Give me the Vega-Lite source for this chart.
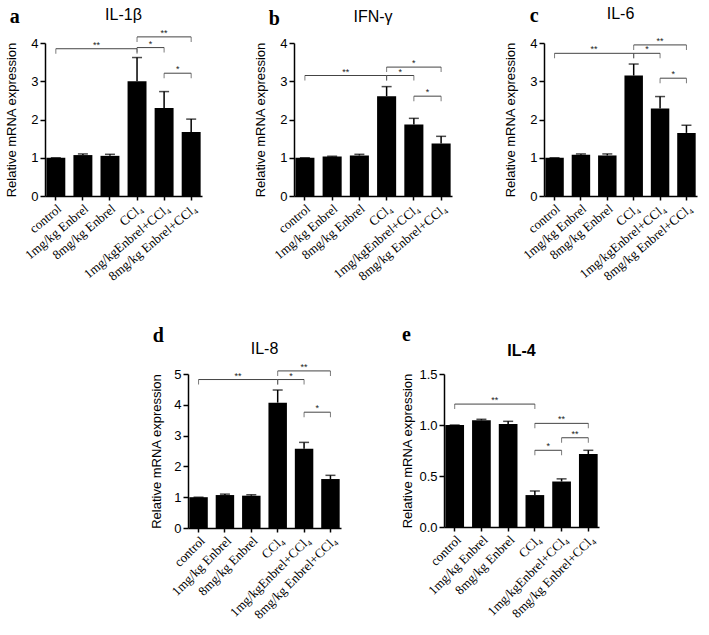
{
  "$schema": "https://vega.github.io/schema/vega-lite/v6.json",
  "background": "white",
  "padding": 5,
  "spacing": 42,
  "config": {
    "view": {"stroke": null},
    "axis": {"domainColor": "black", "domainWidth": 1.5, "tickColor": "black", "tickWidth": 1.5, "tickSize": 5, "grid": false, "labelColor": "black", "titleColor": "black"},
    "title": {"color": "black"}
  },
  "datasets": {
    "a": [
      {"group": "control", "mean": 1.0, "upper": 1.0},
      {"group": "1mg/kg Enbrel", "mean": 1.07, "upper": 1.1},
      {"group": "8mg/kg Enbrel", "mean": 1.05, "upper": 1.09},
      {"group": "CCl₄", "mean": 3.0, "upper": 3.62},
      {"group": "1mg/kgEnbrel+CCl₄", "mean": 2.3, "upper": 2.73},
      {"group": "8mg/kg Enbrel+CCl₄", "mean": 1.67, "upper": 2.01}
    ],
    "as": [
      {"x1": 0, "x2": 3, "mid": 1.5, "y": 3.85, "label": "**"},
      {"x1": 3, "x2": 4, "mid": 3.5, "y": 3.88, "label": "*"},
      {"x1": 3, "x2": 5, "mid": 4, "y": 4.16, "label": "**"},
      {"x1": 4, "x2": 5, "mid": 4.5, "y": 3.21, "label": "*"}
    ],
    "b": [
      {"group": "control", "mean": 1.0, "upper": 1.0},
      {"group": "1mg/kg Enbrel", "mean": 1.03, "upper": 1.04},
      {"group": "8mg/kg Enbrel", "mean": 1.06, "upper": 1.09},
      {"group": "CCl₄", "mean": 2.61, "upper": 2.86},
      {"group": "1mg/kgEnbrel+CCl₄", "mean": 1.87, "upper": 2.03},
      {"group": "8mg/kg Enbrel+CCl₄", "mean": 1.37, "upper": 1.56}
    ],
    "bs": [
      {"x1": 0, "x2": 3, "mid": 1.5, "y": 3.15, "label": "**"},
      {"x1": 3, "x2": 4, "mid": 3.5, "y": 3.15, "label": "*"},
      {"x1": 3, "x2": 5, "mid": 4, "y": 3.37, "label": "*"},
      {"x1": 4, "x2": 5, "mid": 4.5, "y": 2.61, "label": "*"}
    ],
    "c": [
      {"group": "control", "mean": 1.0, "upper": 1.0},
      {"group": "1mg/kg Enbrel", "mean": 1.08, "upper": 1.1},
      {"group": "8mg/kg Enbrel", "mean": 1.06, "upper": 1.1},
      {"group": "CCl₄", "mean": 3.15, "upper": 3.45},
      {"group": "1mg/kgEnbrel+CCl₄", "mean": 2.29, "upper": 2.6},
      {"group": "8mg/kg Enbrel+CCl₄", "mean": 1.65, "upper": 1.85}
    ],
    "cs": [
      {"x1": 0, "x2": 3, "mid": 1.5, "y": 3.73, "label": "**"},
      {"x1": 3, "x2": 4, "mid": 3.5, "y": 3.73, "label": "*"},
      {"x1": 3, "x2": 5, "mid": 4, "y": 3.95, "label": "**"},
      {"x1": 4, "x2": 5, "mid": 4.5, "y": 3.08, "label": "*"}
    ],
    "d": [
      {"group": "control", "mean": 1.0, "upper": 1.0},
      {"group": "1mg/kg Enbrel", "mean": 1.07, "upper": 1.1},
      {"group": "8mg/kg Enbrel", "mean": 1.05, "upper": 1.08},
      {"group": "CCl₄", "mean": 4.07, "upper": 4.48},
      {"group": "1mg/kgEnbrel+CCl₄", "mean": 2.57, "upper": 2.78},
      {"group": "8mg/kg Enbrel+CCl₄", "mean": 1.59, "upper": 1.71}
    ],
    "ds": [
      {"x1": 0, "x2": 3, "mid": 1.5, "y": 4.82, "label": "**"},
      {"x1": 3, "x2": 4, "mid": 3.5, "y": 4.82, "label": "*"},
      {"x1": 3, "x2": 5, "mid": 4, "y": 5.1, "label": "**"},
      {"x1": 4, "x2": 5, "mid": 4.5, "y": 3.76, "label": "*"}
    ],
    "e": [
      {"group": "control", "mean": 1.0, "upper": 1.0},
      {"group": "1mg/kg Enbrel", "mean": 1.046, "upper": 1.056},
      {"group": "8mg/kg Enbrel", "mean": 1.01, "upper": 1.036},
      {"group": "CCl₄", "mean": 0.313, "upper": 0.353},
      {"group": "1mg/kgEnbrel+CCl₄", "mean": 0.446, "upper": 0.472},
      {"group": "8mg/kg Enbrel+CCl₄", "mean": 0.716, "upper": 0.752}
    ],
    "es": [
      {"x1": 0, "x2": 3, "mid": 1.5, "y": 1.205, "label": "**"},
      {"x1": 3, "x2": 5, "mid": 4, "y": 1.016, "label": "**"},
      {"x1": 4, "x2": 5, "mid": 4.5, "y": 0.875, "label": "**"},
      {"x1": 3, "x2": 4, "mid": 3.5, "y": 0.752, "label": "*"}
    ]
  },
  "vconcat": [
    {
      "spacing": 52,
      "hconcat": [
        {
          "title": {"text": "a", "anchor": "start", "font": "Liberation Serif", "fontSize": 20, "fontWeight": "bold", "offset": 0, "dy": 20, "dx": 4},
          "hconcat": [{
            "title": {"text": "IL-1β", "font": "Liberation Sans", "fontSize": 16, "fontWeight": "normal", "frame": "group", "anchor": "middle", "offset": 6},
            "width": 157, "height": 153,
            "resolve": {"scale": {"x": "independent"}, "axis": {"x": "independent", "y": "independent"}},
            "layer": [
              {"data": {"name": "a"}, "mark": {"type": "bar", "color": "black"},
               "encoding": {
                 "x": {"field": "group", "type": "nominal", "sort": null, "scale": {"paddingInner": 0.3, "paddingOuter": 0.05}, "axis": {"title": null, "labelAngle": -40, "labelFont": "Liberation Serif", "labelFontSize": 13, "tickSize": 4, "labelPadding": 2}},
                 "y": {"field": "mean", "type": "quantitative", "stack": null, "scale": {"domain": [0, 4], "nice": false}, "axis": {"title": "Relative mRNA expression", "titleFont": "Liberation Sans", "titleFontSize": 13, "titleFontWeight": "normal", "labelFont": "Liberation Sans", "labelFontSize": 13, "titlePadding": 12, "values": [0, 1, 2, 3, 4]}}}},
              {"data": {"name": "a"}, "mark": {"type": "rule", "color": "black", "strokeWidth": 1.5},
               "encoding": {
                 "x": {"field": "group", "type": "nominal", "sort": null, "scale": {"paddingInner": 0.3, "paddingOuter": 0.05}, "axis": null},
                 "y": {"field": "mean", "type": "quantitative", "scale": {"domain": [0, 4], "nice": false}, "axis": null}, "y2": {"field": "upper"}}},
              {"data": {"name": "a"}, "mark": {"type": "tick", "orient": "horizontal", "color": "black", "size": 10, "thickness": 1.5},
               "encoding": {
                 "x": {"field": "group", "type": "nominal", "sort": null, "scale": {"paddingInner": 0.3, "paddingOuter": 0.05}, "axis": null},
                 "y": {"field": "upper", "type": "quantitative", "scale": {"domain": [0, 4], "nice": false}, "axis": null}}},
              {"data": {"name": "as"}, "mark": {"type": "rule", "color": "#444", "strokeWidth": 1},
               "encoding": {
                 "x": {"field": "x1", "type": "quantitative", "scale": {"domain": [-0.4, 5.4], "nice": false, "zero": false}, "axis": null}, "x2": {"field": "x2"},
                 "y": {"field": "y", "type": "quantitative", "scale": {"domain": [0, 4], "nice": false}, "axis": null}}},
              {"data": {"name": "as"}, "mark": {"type": "tick", "orient": "vertical", "color": "#444", "size": 5, "thickness": 1, "yOffset": 2.5},
               "encoding": {
                 "x": {"field": "x1", "type": "quantitative", "scale": {"domain": [-0.4, 5.4], "nice": false, "zero": false}, "axis": null},
                 "y": {"field": "y", "type": "quantitative", "scale": {"domain": [0, 4], "nice": false}, "axis": null}}},
              {"data": {"name": "as"}, "mark": {"type": "tick", "orient": "vertical", "color": "#444", "size": 5, "thickness": 1, "yOffset": 2.5},
               "encoding": {
                 "x": {"field": "x2", "type": "quantitative", "scale": {"domain": [-0.4, 5.4], "nice": false, "zero": false}, "axis": null},
                 "y": {"field": "y", "type": "quantitative", "scale": {"domain": [0, 4], "nice": false}, "axis": null}}},
              {"data": {"name": "as"}, "mark": {"type": "text", "font": "Liberation Sans", "fontSize": 9, "color": "#222", "baseline": "alphabetic", "dy": -1},
               "encoding": {
                 "x": {"field": "mid", "type": "quantitative", "scale": {"domain": [-0.4, 5.4], "nice": false, "zero": false}, "axis": null},
                 "y": {"field": "y", "type": "quantitative", "scale": {"domain": [0, 4], "nice": false}, "axis": null},
                 "text": {"field": "label"}}}
            ]
          }]
        },
        {
          "title": {"text": "b", "anchor": "start", "font": "Liberation Serif", "fontSize": 20, "fontWeight": "bold", "offset": 0, "dy": 20, "dx": 14},
          "hconcat": [{
            "title": {"text": "IFN-γ", "font": "Liberation Sans", "fontSize": 16, "fontWeight": "normal", "frame": "group", "anchor": "middle", "offset": 12},
            "width": 158, "height": 153,
            "resolve": {"scale": {"x": "independent"}, "axis": {"x": "independent", "y": "independent"}},
            "layer": [
              {"data": {"name": "b"}, "mark": {"type": "bar", "color": "black"},
               "encoding": {
                 "x": {"field": "group", "type": "nominal", "sort": null, "scale": {"paddingInner": 0.3, "paddingOuter": 0.05}, "axis": {"title": null, "labelAngle": -40, "labelFont": "Liberation Serif", "labelFontSize": 13, "tickSize": 4, "labelPadding": 2}},
                 "y": {"field": "mean", "type": "quantitative", "stack": null, "scale": {"domain": [0, 4], "nice": false}, "axis": {"title": "Relative mRNA expression", "titleFont": "Liberation Sans", "titleFontSize": 13, "titleFontWeight": "normal", "labelFont": "Liberation Sans", "labelFontSize": 13, "titlePadding": 12, "values": [0, 1, 2, 3, 4]}}}},
              {"data": {"name": "b"}, "mark": {"type": "rule", "color": "black", "strokeWidth": 1.5},
               "encoding": {
                 "x": {"field": "group", "type": "nominal", "sort": null, "scale": {"paddingInner": 0.3, "paddingOuter": 0.05}, "axis": null},
                 "y": {"field": "mean", "type": "quantitative", "scale": {"domain": [0, 4], "nice": false}, "axis": null}, "y2": {"field": "upper"}}},
              {"data": {"name": "b"}, "mark": {"type": "tick", "orient": "horizontal", "color": "black", "size": 10, "thickness": 1.5},
               "encoding": {
                 "x": {"field": "group", "type": "nominal", "sort": null, "scale": {"paddingInner": 0.3, "paddingOuter": 0.05}, "axis": null},
                 "y": {"field": "upper", "type": "quantitative", "scale": {"domain": [0, 4], "nice": false}, "axis": null}}},
              {"data": {"name": "bs"}, "mark": {"type": "rule", "color": "#444", "strokeWidth": 1},
               "encoding": {
                 "x": {"field": "x1", "type": "quantitative", "scale": {"domain": [-0.4, 5.4], "nice": false, "zero": false}, "axis": null}, "x2": {"field": "x2"},
                 "y": {"field": "y", "type": "quantitative", "scale": {"domain": [0, 4], "nice": false}, "axis": null}}},
              {"data": {"name": "bs"}, "mark": {"type": "tick", "orient": "vertical", "color": "#444", "size": 5, "thickness": 1, "yOffset": 2.5},
               "encoding": {
                 "x": {"field": "x1", "type": "quantitative", "scale": {"domain": [-0.4, 5.4], "nice": false, "zero": false}, "axis": null},
                 "y": {"field": "y", "type": "quantitative", "scale": {"domain": [0, 4], "nice": false}, "axis": null}}},
              {"data": {"name": "bs"}, "mark": {"type": "tick", "orient": "vertical", "color": "#444", "size": 5, "thickness": 1, "yOffset": 2.5},
               "encoding": {
                 "x": {"field": "x2", "type": "quantitative", "scale": {"domain": [-0.4, 5.4], "nice": false, "zero": false}, "axis": null},
                 "y": {"field": "y", "type": "quantitative", "scale": {"domain": [0, 4], "nice": false}, "axis": null}}},
              {"data": {"name": "bs"}, "mark": {"type": "text", "font": "Liberation Sans", "fontSize": 9, "color": "#222", "baseline": "alphabetic", "dy": -1},
               "encoding": {
                 "x": {"field": "mid", "type": "quantitative", "scale": {"domain": [-0.4, 5.4], "nice": false, "zero": false}, "axis": null},
                 "y": {"field": "y", "type": "quantitative", "scale": {"domain": [0, 4], "nice": false}, "axis": null},
                 "text": {"field": "label"}}}
            ]
          }]
        },
        {
          "title": {"text": "c", "anchor": "start", "font": "Liberation Serif", "fontSize": 20, "fontWeight": "bold", "offset": 0, "dy": 20, "dx": 25},
          "hconcat": [{
            "title": {"text": "IL-6", "font": "Liberation Sans", "fontSize": 16, "fontWeight": "normal", "frame": "group", "anchor": "middle", "offset": 15},
            "width": 153, "height": 153,
            "resolve": {"scale": {"x": "independent"}, "axis": {"x": "independent", "y": "independent"}},
            "layer": [
              {"data": {"name": "c"}, "mark": {"type": "bar", "color": "black"},
               "encoding": {
                 "x": {"field": "group", "type": "nominal", "sort": null, "scale": {"paddingInner": 0.3, "paddingOuter": 0.05}, "axis": {"title": null, "labelAngle": -40, "labelFont": "Liberation Serif", "labelFontSize": 13, "tickSize": 4, "labelPadding": 2}},
                 "y": {"field": "mean", "type": "quantitative", "stack": null, "scale": {"domain": [0, 4], "nice": false}, "axis": {"title": "Relative mRNA expression", "titleFont": "Liberation Sans", "titleFontSize": 13, "titleFontWeight": "normal", "labelFont": "Liberation Sans", "labelFontSize": 13, "titlePadding": 12, "values": [0, 1, 2, 3, 4]}}}},
              {"data": {"name": "c"}, "mark": {"type": "rule", "color": "black", "strokeWidth": 1.5},
               "encoding": {
                 "x": {"field": "group", "type": "nominal", "sort": null, "scale": {"paddingInner": 0.3, "paddingOuter": 0.05}, "axis": null},
                 "y": {"field": "mean", "type": "quantitative", "scale": {"domain": [0, 4], "nice": false}, "axis": null}, "y2": {"field": "upper"}}},
              {"data": {"name": "c"}, "mark": {"type": "tick", "orient": "horizontal", "color": "black", "size": 10, "thickness": 1.5},
               "encoding": {
                 "x": {"field": "group", "type": "nominal", "sort": null, "scale": {"paddingInner": 0.3, "paddingOuter": 0.05}, "axis": null},
                 "y": {"field": "upper", "type": "quantitative", "scale": {"domain": [0, 4], "nice": false}, "axis": null}}},
              {"data": {"name": "cs"}, "mark": {"type": "rule", "color": "#444", "strokeWidth": 1},
               "encoding": {
                 "x": {"field": "x1", "type": "quantitative", "scale": {"domain": [-0.4, 5.4], "nice": false, "zero": false}, "axis": null}, "x2": {"field": "x2"},
                 "y": {"field": "y", "type": "quantitative", "scale": {"domain": [0, 4], "nice": false}, "axis": null}}},
              {"data": {"name": "cs"}, "mark": {"type": "tick", "orient": "vertical", "color": "#444", "size": 5, "thickness": 1, "yOffset": 2.5},
               "encoding": {
                 "x": {"field": "x1", "type": "quantitative", "scale": {"domain": [-0.4, 5.4], "nice": false, "zero": false}, "axis": null},
                 "y": {"field": "y", "type": "quantitative", "scale": {"domain": [0, 4], "nice": false}, "axis": null}}},
              {"data": {"name": "cs"}, "mark": {"type": "tick", "orient": "vertical", "color": "#444", "size": 5, "thickness": 1, "yOffset": 2.5},
               "encoding": {
                 "x": {"field": "x2", "type": "quantitative", "scale": {"domain": [-0.4, 5.4], "nice": false, "zero": false}, "axis": null},
                 "y": {"field": "y", "type": "quantitative", "scale": {"domain": [0, 4], "nice": false}, "axis": null}}},
              {"data": {"name": "cs"}, "mark": {"type": "text", "font": "Liberation Sans", "fontSize": 9, "color": "#222", "baseline": "alphabetic", "dy": -1},
               "encoding": {
                 "x": {"field": "mid", "type": "quantitative", "scale": {"domain": [-0.4, 5.4], "nice": false, "zero": false}, "axis": null},
                 "y": {"field": "y", "type": "quantitative", "scale": {"domain": [0, 4], "nice": false}, "axis": null},
                 "text": {"field": "label"}}}
            ]
          }]
        }
      ]
    },
    {
      "spacing": 0,
      "hconcat": [
        {"width": 105, "height": 10, "data": {"values": []}, "mark": {"type": "point", "opacity": 0}},
        {
          "spacing": 60,
          "hconcat": [
            {
              "title": {"text": "d", "anchor": "start", "font": "Liberation Serif", "fontSize": 20, "fontWeight": "bold", "offset": 0, "dy": 5, "dx": 2},
              "hconcat": [{
                "title": {"text": "IL-8", "font": "Liberation Sans", "fontSize": 16, "fontWeight": "normal", "frame": "group", "anchor": "middle", "offset": 6},
                "width": 153, "height": 154,
                "resolve": {"scale": {"x": "independent"}, "axis": {"x": "independent", "y": "independent"}},
                "layer": [
                  {"data": {"name": "d"}, "mark": {"type": "bar", "color": "black"},
                   "encoding": {
                     "x": {"field": "group", "type": "nominal", "sort": null, "scale": {"paddingInner": 0.3, "paddingOuter": 0.05}, "axis": {"title": null, "labelAngle": -45, "labelFont": "Liberation Serif", "labelFontSize": 13, "tickSize": 4, "labelPadding": 2}},
                     "y": {"field": "mean", "type": "quantitative", "stack": null, "scale": {"domain": [0, 5], "nice": false}, "axis": {"title": "Relative mRNA expression", "titleFont": "Liberation Sans", "titleFontSize": 13, "titleFontWeight": "normal", "labelFont": "Liberation Sans", "labelFontSize": 13, "titlePadding": 10, "values": [0, 1, 2, 3, 4, 5]}}}},
                  {"data": {"name": "d"}, "mark": {"type": "rule", "color": "black", "strokeWidth": 1.5},
                   "encoding": {
                     "x": {"field": "group", "type": "nominal", "sort": null, "scale": {"paddingInner": 0.3, "paddingOuter": 0.05}, "axis": null},
                     "y": {"field": "mean", "type": "quantitative", "scale": {"domain": [0, 5], "nice": false}, "axis": null}, "y2": {"field": "upper"}}},
                  {"data": {"name": "d"}, "mark": {"type": "tick", "orient": "horizontal", "color": "black", "size": 10, "thickness": 1.5},
                   "encoding": {
                     "x": {"field": "group", "type": "nominal", "sort": null, "scale": {"paddingInner": 0.3, "paddingOuter": 0.05}, "axis": null},
                     "y": {"field": "upper", "type": "quantitative", "scale": {"domain": [0, 5], "nice": false}, "axis": null}}},
                  {"data": {"name": "ds"}, "mark": {"type": "rule", "color": "#444", "strokeWidth": 1},
                   "encoding": {
                     "x": {"field": "x1", "type": "quantitative", "scale": {"domain": [-0.4, 5.4], "nice": false, "zero": false}, "axis": null}, "x2": {"field": "x2"},
                     "y": {"field": "y", "type": "quantitative", "scale": {"domain": [0, 5], "nice": false}, "axis": null}}},
                  {"data": {"name": "ds"}, "mark": {"type": "tick", "orient": "vertical", "color": "#444", "size": 5, "thickness": 1, "yOffset": 2.5},
                   "encoding": {
                     "x": {"field": "x1", "type": "quantitative", "scale": {"domain": [-0.4, 5.4], "nice": false, "zero": false}, "axis": null},
                     "y": {"field": "y", "type": "quantitative", "scale": {"domain": [0, 5], "nice": false}, "axis": null}}},
                  {"data": {"name": "ds"}, "mark": {"type": "tick", "orient": "vertical", "color": "#444", "size": 5, "thickness": 1, "yOffset": 2.5},
                   "encoding": {
                     "x": {"field": "x2", "type": "quantitative", "scale": {"domain": [-0.4, 5.4], "nice": false, "zero": false}, "axis": null},
                     "y": {"field": "y", "type": "quantitative", "scale": {"domain": [0, 5], "nice": false}, "axis": null}}},
                  {"data": {"name": "ds"}, "mark": {"type": "text", "font": "Liberation Sans", "fontSize": 9, "color": "#222", "baseline": "alphabetic", "dy": -1},
                   "encoding": {
                     "x": {"field": "mid", "type": "quantitative", "scale": {"domain": [-0.4, 5.4], "nice": false, "zero": false}, "axis": null},
                     "y": {"field": "y", "type": "quantitative", "scale": {"domain": [0, 5], "nice": false}, "axis": null},
                     "text": {"field": "label"}}}
                ]
              }]
            },
            {
              "title": {"text": "e", "anchor": "start", "font": "Liberation Serif", "fontSize": 20, "fontWeight": "bold", "offset": 0, "dy": 2, "dx": 0},
              "hconcat": [{
                "title": {"text": "IL-4", "font": "Liberation Sans", "fontSize": 16, "fontWeight": "bold", "frame": "group", "anchor": "middle", "offset": 9},
                "width": 155, "height": 153,
                "resolve": {"scale": {"x": "independent"}, "axis": {"x": "independent", "y": "independent"}},
                "layer": [
                  {"data": {"name": "e"}, "mark": {"type": "bar", "color": "black"},
                   "encoding": {
                     "x": {"field": "group", "type": "nominal", "sort": null, "scale": {"paddingInner": 0.3, "paddingOuter": 0.05}, "axis": {"title": null, "labelAngle": -45, "labelFont": "Liberation Serif", "labelFontSize": 13, "tickSize": 4, "labelPadding": 2}},
                     "y": {"field": "mean", "type": "quantitative", "stack": null, "scale": {"domain": [0, 1.5], "nice": false}, "axis": {"title": "Relative mRNA expression", "titleFont": "Liberation Sans", "titleFontSize": 13, "titleFontWeight": "normal", "labelFont": "Liberation Sans", "labelFontSize": 13, "titlePadding": 4, "format": ".1f", "values": [0, 0.5, 1, 1.5]}}}},
                  {"data": {"name": "e"}, "mark": {"type": "rule", "color": "black", "strokeWidth": 1.5},
                   "encoding": {
                     "x": {"field": "group", "type": "nominal", "sort": null, "scale": {"paddingInner": 0.3, "paddingOuter": 0.05}, "axis": null},
                     "y": {"field": "mean", "type": "quantitative", "scale": {"domain": [0, 1.5], "nice": false}, "axis": null}, "y2": {"field": "upper"}}},
                  {"data": {"name": "e"}, "mark": {"type": "tick", "orient": "horizontal", "color": "black", "size": 10, "thickness": 1.5},
                   "encoding": {
                     "x": {"field": "group", "type": "nominal", "sort": null, "scale": {"paddingInner": 0.3, "paddingOuter": 0.05}, "axis": null},
                     "y": {"field": "upper", "type": "quantitative", "scale": {"domain": [0, 1.5], "nice": false}, "axis": null}}},
                  {"data": {"name": "es"}, "mark": {"type": "rule", "color": "#444", "strokeWidth": 1},
                   "encoding": {
                     "x": {"field": "x1", "type": "quantitative", "scale": {"domain": [-0.4, 5.4], "nice": false, "zero": false}, "axis": null}, "x2": {"field": "x2"},
                     "y": {"field": "y", "type": "quantitative", "scale": {"domain": [0, 1.5], "nice": false}, "axis": null}}},
                  {"data": {"name": "es"}, "mark": {"type": "tick", "orient": "vertical", "color": "#444", "size": 5, "thickness": 1, "yOffset": 2.5},
                   "encoding": {
                     "x": {"field": "x1", "type": "quantitative", "scale": {"domain": [-0.4, 5.4], "nice": false, "zero": false}, "axis": null},
                     "y": {"field": "y", "type": "quantitative", "scale": {"domain": [0, 1.5], "nice": false}, "axis": null}}},
                  {"data": {"name": "es"}, "mark": {"type": "tick", "orient": "vertical", "color": "#444", "size": 5, "thickness": 1, "yOffset": 2.5},
                   "encoding": {
                     "x": {"field": "x2", "type": "quantitative", "scale": {"domain": [-0.4, 5.4], "nice": false, "zero": false}, "axis": null},
                     "y": {"field": "y", "type": "quantitative", "scale": {"domain": [0, 1.5], "nice": false}, "axis": null}}},
                  {"data": {"name": "es"}, "mark": {"type": "text", "font": "Liberation Sans", "fontSize": 9, "color": "#222", "baseline": "alphabetic", "dy": -1},
                   "encoding": {
                     "x": {"field": "mid", "type": "quantitative", "scale": {"domain": [-0.4, 5.4], "nice": false, "zero": false}, "axis": null},
                     "y": {"field": "y", "type": "quantitative", "scale": {"domain": [0, 1.5], "nice": false}, "axis": null},
                     "text": {"field": "label"}}}
                ]
              }]
            }
          ]
        }
      ]
    }
  ]
}
